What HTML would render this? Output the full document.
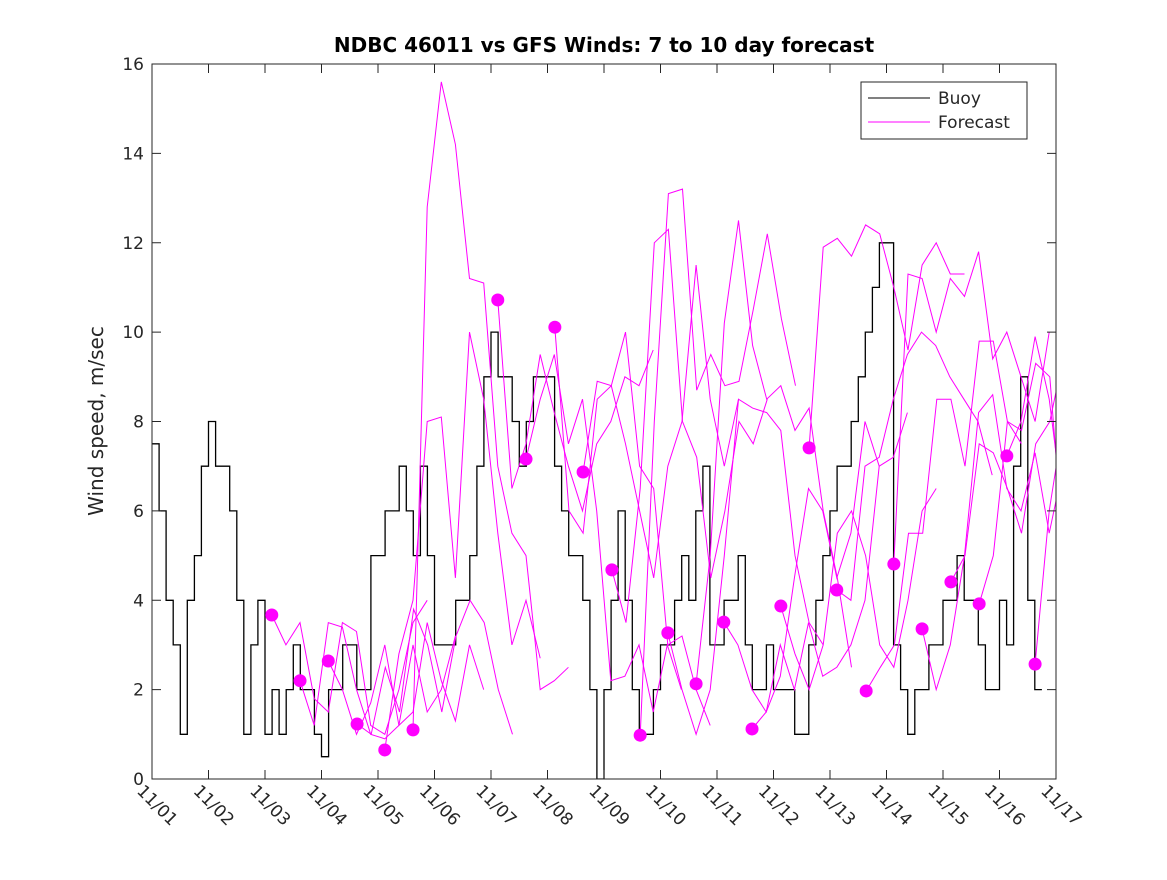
<!DOCTYPE html>
<html><head><meta charset="utf-8"><style>
body{margin:0;background:#fff}
text{font-family:"DejaVu Sans","Liberation Sans",sans-serif;fill:#262626}
</style></head><body>
<svg id="chart" width="1167" height="875" xmlns="http://www.w3.org/2000/svg">
<defs><clipPath id="clip"><rect x="152" y="64" width="904" height="715"/></clipPath></defs>
<rect x="0" y="0" width="1167" height="875" fill="#fff"/>
<text x="604" y="52" text-anchor="middle" font-size="20" font-weight="bold" style="fill:#000">NDBC 46011 vs GFS Winds: 7 to 10 day forecast</text>
<text transform="translate(103,421) rotate(-90)" text-anchor="middle" font-size="20">Wind speed, m/sec</text>
<g id="plot" clip-path="url(#clip)"></g>
<g id="axes"></g>
<g>
<rect x="861" y="82" width="166" height="57" fill="#fff" stroke="#262626" stroke-width="1"/>
<line x1="868" y1="98" x2="930" y2="98" stroke="#000"/>
<text x="938" y="104" font-size="17">Buoy</text>
<line x1="868" y1="122" x2="930" y2="122" stroke="#ff00ff"/>
<text x="938" y="128" font-size="17">Forecast</text>
</g>
</svg>
<script>
const xTickLabels=["11/01","11/02","11/03","11/04","11/05","11/06","11/07","11/08","11/09","11/10","11/11","11/12","11/13","11/14","11/15","11/16","11/17"];
const yTicks=[0,2,4,6,8,10,12,14,16];
// buoy values every 3 hours starting 11/01 00:00
const buoyValues=[7.5,6,4,3,1,4,5,7, 8,7,7,6,4,1,3,4, 1,2,1,2,3,2,2,1, 0.5,2,2,3,3,2,2,5, 5,6,6,7,6,5,7,5, 3,3,3,4,4,5,7,9, 10,9,9,8,7,8,9,9, 9,7,6,5,5,4,2,0, 2,4,6,4,2,1,1,2, 3,3,4,5,4,6,7,3, 3,4,4,5,3,2,2,3, 2,2,2,1,1,3,4,5, 6,7,7,8,9,10,11,12, 12,3,2,1,2,2,3,3, 4,4,5,4,4,3,2,2, 4,3,7,9,4,2];
const forecastStarts=[2.12,2.62,3.12,3.63,4.12,4.62,6.12,6.62,7.13,7.63,8.14,8.64,9.13,9.63,10.12,10.62,11.13,11.63,12.12,12.64,13.13,13.63,14.14,14.64,15.13,15.63];
const dotValues=[3.67,2.2,2.64,1.23,0.65,1.1,10.72,7.16,10.11,6.87,4.68,0.98,3.27,2.13,3.51,1.12,3.87,7.41,4.23,1.97,4.81,3.36,4.41,3.92,7.23,2.57];
// forecast values every 6 hours after each start
const forecastValues=[
[3.67,3.0,3.5,1.8,1.5,3.5,3.3,1.2,1.0,2.0,3.5,4.0],
[2.2,1.2,3.5,3.4,2.0,1.0,0.9,1.2,3.0,1.5,2.0,3.2],
[2.64,2.0,1.0,1.7,3.0,1.2,1.5,3.5,2.2,1.3,3.0,2.0],
[1.23,1.0,2.5,1.5,3.8,3.0,1.5,3.2,4.0,3.5,2.0,1.0],
[0.65,2.8,4.0,8.0,8.1,4.5,10.0,8.5,5.5,3.0,4.0,2.7],
[1.1,12.8,15.6,14.2,11.2,11.1,7.0,5.5,5.0,2.0,2.2,2.5],
[10.72,6.5,7.5,9.5,8.2,7.0,6.0,7.5,8.0,9.0,8.8,9.6],
[7.16,8.5,9.5,7.5,8.5,6.0,2.2,2.3,3.0,1.5,3.0,2.0],
[10.11,6.0,5.5,8.5,8.8,10.0,7.0,6.5,3.0,3.2,2.0,1.2],
[6.87,8.9,8.8,7.5,6.0,4.5,7.0,8.0,11.5,8.5,7.0,8.5],
[4.68,3.5,6.5,12.0,12.3,8.0,7.2,4.5,6.0,8.0,7.5,8.5],
[0.98,8.0,13.1,13.2,8.7,9.5,8.8,8.9,10.5,12.2,10.3,8.8],
[3.27,2.0,1.0,2.0,5.0,8.5,8.3,8.2,7.8,5.0,3.5,3.0],
[2.13,5.0,10.2,12.5,9.7,8.5,8.8,7.8,8.3,6.0,4.5,2.5],
[3.51,3.0,2.0,1.5,2.3,4.5,6.5,6.0,4.5,5.5,8.0,7.0],
[1.12,1.5,3.0,2.0,3.5,2.3,2.5,3.0,4.0,7.0,7.2,8.2],
[3.87,2.8,2.0,3.0,5.5,6.0,5.0,3.0,2.5,4.0,6.0,6.5],
[7.41,11.9,12.1,11.7,12.4,12.2,11.0,9.6,11.5,12.0,11.3,11.3],
[4.23,4.0,7.0,7.2,8.5,9.5,10.0,9.7,9.0,8.5,8.0,6.8],
[1.97,2.5,3.0,5.5,5.5,8.5,8.5,7.0,9.8,9.8,8.0,7.5],
[4.81,11.3,11.2,10.0,11.2,10.8,11.8,9.4,10.0,9.0,8.0,10.0],
[3.36,2.0,3.0,5.0,8.2,8.6,6.5,6.0,7.3,5.5,7.0,9.8],
[4.41,5.0,7.5,7.3,6.5,5.5,7.5,8.0,9.5,9.0,6.0,5.0],
[3.92,5.0,8.0,7.8,9.3,9.0,5.0,7.0,4.5,5.0,7.0,12.2],
[7.23,8.0,9.9,8.5,6.0,4.3,5.0,1.2,1.1,4.8,12.2,11.9],
[2.57,6.0,8.0]
];
const X0=152,X1=1056,Y0=779,Y1=64;
const xs=d=>X0+(X1-X0)*d/16;
const ys=v=>Y0-(Y0-Y1)*v/16;
const NS="http://www.w3.org/2000/svg";
const plot=document.getElementById('plot'),axes=document.getElementById('axes');
function mk(tag,attrs,parent){const e=document.createElementNS(NS,tag);for(const k in attrs)e.setAttribute(k,attrs[k]);parent.appendChild(e);return e;}
let d="";
buoyValues.forEach((v,i)=>{const x=xs(i/8),y=ys(v);d+=(i?"H"+x.toFixed(1)+"V"+y.toFixed(1):"M"+x.toFixed(1)+","+y.toFixed(1));});
d+="H"+xs(buoyValues.length/8).toFixed(1);
const bl=mk('path',{d:d,fill:'none',stroke:'#000','stroke-width':1.3},plot);


forecastValues.forEach((vals,k)=>{
  const pts=vals.map((v,i)=>xs(forecastStarts[k]+i*0.25).toFixed(1)+","+ys(v).toFixed(1)).join(" ");
  const pl=mk('polyline',{points:pts,fill:'none',stroke:'#ff00ff','stroke-width':1},plot);
  
  
});
forecastStarts.forEach((s,k)=>{
  const c=mk('circle',{cx:xs(s),cy:ys(dotValues[k]),r:6.5,fill:'#ff00ff'},plot);
  
  
});
const box=mk('rect',{x:X0,y:Y1,width:X1-X0,height:Y0-Y1,fill:'none',stroke:'#262626','stroke-width':1},axes);


yTicks.forEach(v=>{
  const y=ys(v);
  mk('line',{x1:X0,y1:y,x2:X0+9,y2:y,stroke:'#262626'},axes);
  mk('line',{x1:X1,y1:y,x2:X1-9,y2:y,stroke:'#262626'},axes);
  const t=mk('text',{x:X0-8,y:y+6,'text-anchor':'end','font-size':17},axes);
  t.textContent=v;
  
  
});
xTickLabels.forEach((lab,i)=>{
  const x=xs(i);
  mk('line',{x1:x,y1:Y0,x2:x,y2:Y0-9,stroke:'#262626'},axes);
  mk('line',{x1:x,y1:Y1,x2:x,y2:Y1+9,stroke:'#262626'},axes);
  const t=mk('text',{transform:`translate(${x-16},${Y0+13}) rotate(45)`,'font-size':17},axes);
  t.textContent=lab;
  
  
});
</script>
</body></html>
